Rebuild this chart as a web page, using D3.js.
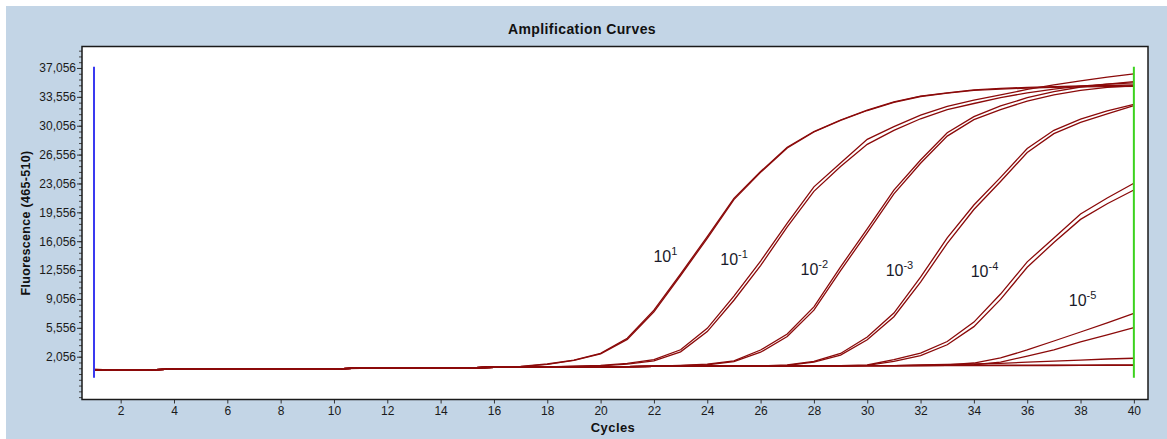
<!DOCTYPE html>
<html><head><meta charset="utf-8">
<script src="https://cdn.jsdelivr.net/npm/d3@7"></script>
<style>
body{margin:0;background:#fff}
svg{display:block}
text{font-family:"Liberation Sans",Arial,sans-serif}
</style>
</head><body>
<svg id="chart" width="1167" height="439"></svg>
<script>
// ---------- DATA ----------
const cycles = [1,2,3,4,5,6,7,8,9,10,11,12,13,14,15,16,17,18,19,20,21,22,23,24,25,26,27,28,29,30,31,32,33,34,35,36,37,38,39,40];

const s10p1a = [520,440,450,560,565,570,570,575,580,590,660,680,680,690,700,780,880,1170,1650,2470,4300,7700,12100,16600,21250,24500,27450,29350,30750,31950,32950,33650,34050,34400,34580,34700,34800,34870,34930,34990];
const s10p1b = [510,440,450,555,565,570,570,575,580,590,655,680,680,690,700,775,860,1120,1600,2400,4150,7500,11900,16400,21100,24400,27350,29300,30700,31900,32900,33600,34000,34330,34500,34620,34700,34760,34800,34830];
const s10m1a = [500,440,450,560,565,570,570,575,580,590,660,680,680,690,700,780,800,830,900,1000,1250,1700,2900,5500,9400,13650,18250,22650,25550,28400,29950,31350,32400,33150,33800,34450,35000,35500,35950,36330];
const s10m1b = [500,440,450,560,565,570,570,575,580,590,660,680,680,690,700,780,800,820,880,950,1150,1550,2650,5100,8900,13100,17800,22100,25100,27800,29500,30900,32000,32750,33450,34050,34500,34850,35100,35250];
const s10m2a = [500,440,450,560,565,570,570,575,580,590,660,680,680,690,700,780,800,820,830,840,860,900,1000,1150,1550,2870,4800,8100,12950,17550,22250,25900,29200,31150,32450,33450,34200,34750,35100,35400];
const s10m2b = [500,440,450,560,565,570,570,575,580,590,660,680,680,690,700,780,800,820,830,840,860,880,960,1080,1450,2600,4500,7700,12500,17100,21800,25500,28800,30800,32000,33050,33800,34350,34700,34900];
const s10m3a = [500,440,450,560,565,570,570,575,580,590,660,680,680,690,700,780,800,820,830,840,860,880,900,910,920,940,1050,1500,2450,4450,7350,11700,16450,20450,23800,27300,29500,30850,31850,32630];
const s10m3b = [500,440,450,560,565,570,570,575,580,590,660,680,680,690,700,780,800,820,830,840,860,880,900,910,920,930,1000,1400,2250,4100,6900,11100,15800,19900,23300,26800,29100,30450,31500,32500];
const s10m4a = [500,440,450,560,565,570,570,575,580,590,660,680,680,690,700,780,800,820,830,840,860,880,900,910,920,930,940,950,970,1050,1700,2500,3900,6250,9650,13550,16450,19350,21300,23080];
const s10m4b = [500,440,450,560,565,570,570,575,580,590,660,680,680,690,700,780,800,820,830,840,860,880,900,910,920,930,940,950,960,1000,1500,2200,3500,5700,9000,12900,15900,18700,20600,22270];
const s10m5a = [500,440,450,560,565,570,570,575,580,590,660,680,680,690,700,780,800,820,830,840,860,880,900,910,920,930,940,950,960,970,980,1000,1060,1290,1900,2870,3960,5050,6150,7320];
const s10m5b = [500,440,450,560,565,570,570,575,580,590,660,680,680,690,700,780,800,820,830,840,860,880,900,910,920,930,940,950,960,970,975,985,1000,1080,1400,2140,2870,3840,4690,5570];
const sNeg1 = [500,440,450,560,565,570,570,575,580,590,660,680,680,690,700,780,800,820,830,840,860,880,900,910,920,930,940,950,960,970,980,1050,1110,1170,1250,1400,1530,1650,1780,1870];
const sNeg2 = [500,440,450,560,565,570,570,575,580,590,660,680,680,690,700,780,800,820,830,840,860,880,900,910,920,930,940,950,960,970,980,990,1000,1010,1020,1030,1040,1045,1050,1060];
const sNeg3 = [500,440,450,560,565,570,570,575,580,590,660,680,680,690,700,780,800,820,830,840,860,880,900,910,920,930,940,950,960,960,960,970,970,975,980,985,990,995,1000,1000];

const seriesList = [s10p1a,s10p1b,s10m1a,s10m1b,s10m2a,s10m2b,s10m3a,s10m3b,s10m4a,s10m4b,s10m5a,s10m5b,sNeg1,sNeg2,sNeg3];

const yTickValues = [2056,5556,9056,12556,16056,19556,23056,26556,30056,33556,37056];
const xTickValues = [2,4,6,8,10,12,14,16,18,20,22,24,26,28,30,32,34,36,38,40];

const labelExponents = ["1","-1","-2","-3","-4","-5"];
const labelCycles = [21.98,24.49,27.50,30.69,33.88,37.56];
const labelValues = [13540,13170,11960,11840,11720,8200];

const markerCycles = [1,40];
const markerColors = ["#3a3af0","#3cd21e"];
const markerTop = 37200, markerBottom = -500;

// ---------- CHART ----------
const FONT = "'Liberation Sans', Arial, sans-serif";
const svg = d3.select("#chart");
const W = 1167, H = 439;
const plot = {left:82, top:46.5, right:1148, bottom:399.5};

svg.append("rect").attr("x",6).attr("y",6).attr("width",W-6).attr("height",H-6).attr("fill","#c3d5e6");

const x = d3.scaleLinear().domain([0.55,40.53]).range([plot.left,plot.right]);
const y = d3.scaleLinear().domain([-3132,39660]).range([plot.bottom,plot.top]);

svg.append("rect").attr("x",plot.left).attr("y",plot.top)
  .attr("width",plot.right-plot.left).attr("height",plot.bottom-plot.top)
  .attr("fill","#fff");

// title
svg.append("text").attr("x",582).attr("y",34).attr("text-anchor","middle")
  .attr("font-size",14).attr("letter-spacing",0.4).attr("font-weight","bold").attr("fill","#111")
  .attr("font-family",FONT).text("Amplification Curves");

// y axis
const minorTicks = d3.range(2056-700*7, 39660, 700).filter(v => v > -3132);
const yAxisMinor = d3.axisLeft(y).tickValues(minorTicks).tickSize(3).tickFormat("");
const gYm = svg.append("g").attr("transform",`translate(${plot.left},0)`).call(yAxisMinor);
gYm.select(".domain").remove();
gYm.selectAll("line").attr("stroke","#444");

const yAxis = d3.axisLeft(y).tickValues(yTickValues).tickSize(5).tickPadding(1).tickFormat(d3.format(","));
const gY = svg.append("g").attr("transform",`translate(${plot.left},0)`).call(yAxis);
gY.select(".domain").remove();
gY.selectAll("line").attr("stroke","#333");
gY.selectAll("text").attr("font-size",12).attr("fill","#1a1a1a").attr("font-family",FONT);

svg.append("text").attr("transform","translate(30,223) rotate(-90)")
  .attr("text-anchor","middle").attr("font-size",12.5).attr("letter-spacing",0.3)
  .attr("font-weight","bold").attr("fill","#111").attr("font-family",FONT)
  .text("Fluorescence (465-510)");

// x axis
const xAxis = d3.axisBottom(x).tickValues(xTickValues).tickSize(4).tickPadding(3).tickFormat(d3.format("d"));
const gX = svg.append("g").attr("transform",`translate(0,${plot.bottom})`).call(xAxis);
gX.select(".domain").remove();
gX.selectAll("line").attr("stroke","#333");
gX.selectAll("text").attr("font-size",12).attr("fill","#1a1a1a").attr("font-family",FONT);

svg.append("text").attr("x",613).attr("y",432).attr("text-anchor","middle")
  .attr("font-size",13).attr("letter-spacing",0.4).attr("font-weight","bold").attr("fill","#111")
  .attr("font-family",FONT).text("Cycles");

// curves
const line = d3.line().x((d,i)=>x(cycles[i])).y(d=>y(d));
svg.append("g").selectAll("path").data(seriesList).join("path")
  .attr("d",line).attr("fill","none").attr("stroke","#8b0a0a").attr("stroke-width",1.3);

// marker lines
svg.append("g").selectAll("line").data(markerCycles).join("line")
  .attr("x1",d=>x(d)).attr("x2",d=>x(d))
  .attr("y1",y(markerTop)).attr("y2",y(markerBottom))
  .attr("stroke",(d,i)=>markerColors[i]).attr("stroke-width",2);

// labels
const lab = svg.append("g").selectAll("text").data(labelExponents).join("text")
  .attr("x",(d,i)=>x(labelCycles[i])).attr("y",(d,i)=>y(labelValues[i]))
  .attr("font-size",16).attr("fill","#1a1a2a").attr("font-family",FONT);
lab.append("tspan").text("10");
lab.append("tspan").attr("dy",-7).attr("font-size",11).text(d=>d);

// frame
svg.append("rect").attr("x",plot.left).attr("y",plot.top)
  .attr("width",plot.right-plot.left).attr("height",plot.bottom-plot.top)
  .attr("fill","none").attr("stroke","#1a1a1a").attr("stroke-width",1.5);
</script>
</body></html>
